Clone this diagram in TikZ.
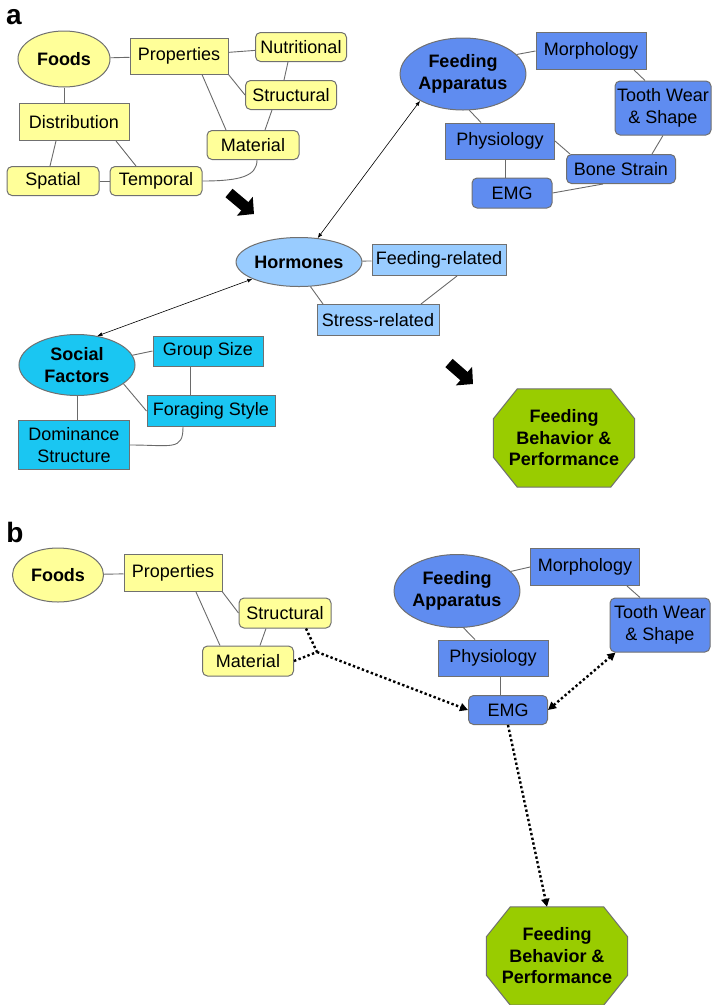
\documentclass[tikz,border=0pt]{standalone}
\usepackage{fontspec}
\setmainfont{Liberation Sans}
\usetikzlibrary{arrows.meta,shapes.geometric,backgrounds}
\definecolor{foodyel}{HTML}{FFFF99}
\definecolor{appblue}{HTML}{5F8CF0}
\definecolor{hormblue}{HTML}{99CCFF}
\definecolor{socialcyan}{HTML}{1AC6F2}
\definecolor{perfgreen}{HTML}{99CC00}
\definecolor{edgegrey}{HTML}{707070}
\definecolor{linkgrey}{HTML}{6A6A6A}
\newcommand{\octframe}[1]{%
  \begin{scope}[on background layer]
  \draw[draw=edgegrey,fill=perfgreen,line width=1pt]
    ([xshift=24pt]#1.north west) -- ([xshift=-24pt]#1.north east)
    -- ([yshift=-30pt]#1.north east) -- ([yshift=30pt]#1.south east)
    -- ([xshift=-24pt]#1.south east) -- ([xshift=24pt]#1.south west)
    -- ([yshift=30pt]#1.south west) -- ([yshift=-30pt]#1.north west) -- cycle;
  \end{scope}}

\begin{document}
\begin{tikzpicture}[x=1pt,y=-1pt,
  nodes={font=\fontsize{18}{21.5}\selectfont,inner sep=0pt,align=center},
  sz/.style 2 args={minimum width=#1pt,minimum height=#2pt},
  sq/.style={draw=edgegrey,line width=1pt,rectangle},
  rnd/.style={sq,rounded corners=5pt},
  ell/.style={draw=edgegrey,line width=1pt,ellipse,font=\fontsize{18}{21.5}\selectfont\bfseries},
  yel/.style={fill=foodyel},
  blu/.style={fill=appblue},
  lblu/.style={fill=hormblue},
  cyn/.style={fill=socialcyan},
  perf/.style={sz={141}{98},font=\fontsize{18}{21.5}\selectfont\bfseries},
  panel/.style={font=\fontsize{28}{30}\selectfont\bfseries},
  link/.style={draw=linkgrey,line width=0.9pt},
  dual/.style={{Latex[length=5pt,width=4pt]}-{Latex[length=5pt,width=4pt]},line width=0.6pt},
  dots/.style={line width=2.4pt,dash pattern=on 2.4pt off 2.4pt,-{Triangle[length=8pt,width=8pt]}},
  block/.style={line width=11pt,-{Triangle[length=12pt,width=24pt]}}
]
\useasboundingbox (0,0) rectangle (717,1005);

% panel a
\node[panel] (laba) at (14,17) {a};
\node[ell,yel,sz={92}{56}] (foods) at (64,59) {Foods};
\node[sq,yel,sz={98}{36}] (prop) at (179,56) {Properties};
\node[rnd,yel,sz={91}{29}] (nutr) at (301,47) {Nutritional};
\node[rnd,yel,sz={91}{29}] (struc) at (291,95) {Structural};
\node[rnd,yel,sz={92}{29}] (mat) at (253,145) {Material};
\node[sq,yel,sz={110}{37}] (dist) at (74,122) {Distribution};
\node[rnd,yel,sz={92}{29}] (spat) at (53,181) {Spatial};
\node[rnd,yel,sz={92}{29}] (temp) at (156,181) {Temporal};

\node[ell,blu,sz={123}{72}] (fa) at (463,74) {Feeding\\Apparatus};
\node[sq,blu,sz={110}{37}] (morph) at (591,51) {Morphology};
\node[rnd,blu,sz={96}{54}] (tooth) at (663,108) {Tooth Wear\\\& Shape};
\node[sq,blu,sz={109}{36}] (phys) at (500,141) {Physiology};
\node[rnd,blu,sz={109}{29}] (bone) at (621,169) {Bone Strain};
\node[rnd,blu,sz={80}{30}] (emg) at (512,193) {EMG};

\node[ell,lblu,sz={122}{49}] (horm) at (299,262) {Hormones};
\node[sq,lblu,sz={134}{31}] (feedrel) at (439,260) {Feeding-related};
\node[sq,lblu,sz={122}{31}] (stress) at (378,320) {Stress-related};

\node[ell,cyn,sz={116}{61}] (sf) at (77,365) {Social\\Factors};
\node[sq,cyn,sz={110}{30}] (group) at (208,351) {Group Size};
\node[sq,cyn,sz={128}{31}] (forg) at (211,411) {Foraging Style};
\node[sq,cyn,sz={111}{49}] (dom) at (74,445) {Dominance\\Structure};

\node[perf] (fbp) at (564,438) {Feeding\\Behavior \&\\Performance};
\octframe{fbp}

\draw[link] (foods) -- (prop);
\draw[link] (prop) -- (nutr);
\draw[link] (prop.south east) -- (struc.west);
\draw[link] ([xshift=23pt]prop.south) -- ([xshift=-27pt]mat.north);
\draw[link] ([xshift=-13pt]nutr.south) -- ([xshift=-7pt]struc.north);
\draw[link] ([xshift=-19pt]struc.south) -- ([xshift=12pt]mat.north);
\draw[link] (foods.south) -- (foods.south |- dist.north);
\draw[link] ([xshift=-18pt]dist.south) -- ([xshift=-3pt]spat.north);
\draw[link] ([xshift=42pt]dist.south) -- ([xshift=-20pt]temp.north);
\draw[link] (spat) -- (temp);
\draw[link] (temp.east) .. controls +(38,0) and +(0,16) .. ([xshift=4pt]mat.south);

\draw[link] (fa.20) -- (morph.west);
\draw[link] (fa.-80) -- ([xshift=-19pt]phys.north);
\draw[link] ([xshift=43pt]morph.south) -- ([xshift=-18pt]tooth.north);
\draw[link] (tooth.south) -- ([xshift=31pt]bone.north);
\draw[link] (phys.east) -- ([xshift=4pt]bone.north west);
\draw[link] ([xshift=5pt]phys.south) -- ([xshift=5pt]phys.south |- emg.north);
\draw[link] (emg.east) -- ([xshift=-18pt]bone.south);

\draw[link] (horm) -- (feedrel);
\draw[link] (horm.-65) -- ([xshift=-55pt]stress.north);
\draw[link] ([xshift=18pt]feedrel.south) -- ([xshift=43pt]stress.north);

\draw[link] (sf.10) -- (group.west);
\draw[link] (sf.-22) -- (forg.west);
\draw[link] ([xshift=-18pt]group.south) -- ([xshift=-18pt]group.south |- forg.north);
\draw[link] (sf.south) -- (sf.south |- dom.north);
\draw[link] (dom.east) .. controls +(42,0) and +(0,24) .. ([xshift=-28pt]forg.south);

\draw[dual] (fa.-148) -- (horm.52);
\draw[dual] (horm.200) -- (sf.55);

\coordinate (a1s) at (229,193);
\coordinate (a1e) at (254,214);
\draw[block] (a1s) -- (a1e);
\coordinate (a2s) at (449,363);
\coordinate (a2e) at (473,384);
\draw[block] (a2s) -- (a2e);

% panel b
\node[panel] (labb) at (15,532) {b};
\node[ell,yel,sz={91}{54}] (foodsb) at (58,575) {Foods};
\node[sq,yel,sz={98}{37}] (propb) at (173,573) {Properties};
\node[rnd,yel,sz={92}{30}] (strucb) at (285,613) {Structural};
\node[rnd,yel,sz={91}{30}] (matb) at (248,661) {Material};

\node[ell,blu,sz={122}{73}] (fab) at (457,591) {Feeding\\Apparatus};
\node[sq,blu,sz={109}{37}] (morphb) at (585,567) {Morphology};
\node[rnd,blu,sz={100}{54}] (toothb) at (660,625) {Tooth Wear\\\& Shape};
\node[sq,blu,sz={110}{36}] (physb) at (493,658) {Physiology};
\node[rnd,blu,sz={79}{29}] (emgb) at (508,710) {EMG};

\node[perf] (fbpb) at (557,956) {Feeding\\Behavior \&\\Performance};
\octframe{fbpb}

\draw[link] (foodsb) -- (propb);
\draw[link] (propb.south east) -- (strucb.west);
\draw[link] ([xshift=23pt]propb.south) -- ([xshift=-28pt]matb.north);
\draw[link] ([xshift=-19pt]strucb.south) -- ([xshift=12pt]matb.north);
\draw[link] (fab.20) -- (morphb.west);
\draw[link] (fab.-80) -- ([xshift=-18pt]physb.north);
\draw[link] ([xshift=42pt]morphb.south) -- ([xshift=-20pt]toothb.north);
\draw[link] ([xshift=7pt]physb.south) -- ([xshift=7pt]physb.south |- emgb.north);

\coordinate (join) at (317,652);
\draw[dots,-] ([xshift=21pt]strucb.south) -- (join);
\draw[dots,-] (matb.east) -- (join);
\draw[dots] (join) -- (emgb.west);
\draw[dots,{Triangle[length=8pt,width=8pt]}-{Triangle[length=8pt,width=8pt]}] (emgb.east) -- ([xshift=6pt]toothb.south west);
\draw[dots] (emgb.south) -- ([xshift=-10pt]fbpb.north);
\end{tikzpicture}
\end{document}
